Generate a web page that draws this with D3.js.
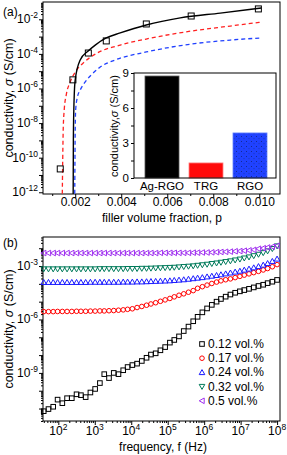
<!DOCTYPE html>
<html>
<head>
<meta charset="utf-8">
<script src="https://cdn.jsdelivr.net/npm/d3@7"></script>
<style>
  body { margin: 0; background: #fff; }
  svg { display: block; font-family: "Liberation Sans", Arial, sans-serif; }
</style>
</head>
<body>
<div id="chart"></div>
<script>
// ---- panel (a): measured points + fitted curves (log10 sigma) ----
const fillerP   = [0.00135, 0.0019, 0.00257, 0.00335, 0.00509, 0.00704, 0.00996];
const sigmaALog = [-10.65, -5.5, -3.95, -3.25, -2.27, -1.81, -1.4];

const fitAgP   = [0.00191, 0.00192, 0.00194, 0.00196, 0.0020, 0.002217, 0.002565, 0.00287, 0.003348, 0.003957, 0.005087, 0.006565, 0.008304, 0.010087];
const fitAgLog = [-12.5, -9, -7.2, -6.3, -5.5, -4.35, -3.83, -3.49, -3.08, -2.79, -2.33, -1.92, -1.64, -1.35];

const trgP   = [0.001435, 0.001457, 0.001478, 0.001522, 0.001609, 0.001783, 0.002, 0.002348, 0.002957, 0.003957, 0.005087, 0.007043, 0.008739, 0.010087];
const trgLog = [-12.5, -10.13, -8.4, -7.24, -6.38, -5.62, -5.05, -4.53, -3.95, -3.49, -3.14, -2.68, -2.39, -2.16];

const rgoP   = [0.001978, 0.002, 0.00202, 0.002087, 0.002217, 0.002435, 0.002739, 0.003087, 0.003739, 0.005087, 0.007043, 0.008739, 0.010087];
const rgoLog = [-12.5, -8.4, -7.24, -6.55, -6.09, -5.62, -5.16, -4.76, -4.35, -3.89, -3.43, -3.2, -3.08];

// inset bars
const fillers = ['Ag-RGO', 'TRG', 'RGO'];
const fillerSigma = [8.74, 1.29, 3.86];
const barColors = ['#000000', '#ff0a0a', '#2042ff'];

// ---- panel (b): frequency sweep ----
const freqExp = [1.60,1.73,1.86,1.98,2.11,2.24,2.37,2.50,2.62,2.75,2.88,3.01,3.14,3.26,3.39,3.52,3.65,3.78,3.90,4.03,4.16,4.29,4.42,4.54,4.67,4.80,4.93,5.06,5.18,5.31,5.44,5.57,5.70,5.82,5.95,6.08,6.21,6.34,6.46,6.59,6.72,6.85,6.98,7.10,7.23,7.36,7.49,7.62,7.74,7.87,8.00];

const s012 = [-11.15,-11.03,-10.9,-10.5,-10.7,-10.42,-10.42,-10.2,-10.25,-10.36,-10.1,-9.9,-9.57,-9.07,-9.29,-9.0,-9.07,-8.85,-8.67,-8.56,-8.48,-8.33,-8.15,-7.97,-7.9,-7.73,-7.55,-7.3,-7.15,-6.95,-6.65,-6.4,-6.1,-5.85,-5.6,-5.38,-5.18,-5.0,-4.85,-4.72,-4.6,-4.5,-4.42,-4.35,-4.28,-4.2,-4.12,-4.05,-3.96,-3.88,-3.78];
const s017 = [-5.56,-5.56,-5.56,-5.55,-5.55,-5.55,-5.55,-5.54,-5.54,-5.54,-5.53,-5.53,-5.52,-5.52,-5.51,-5.5,-5.48,-5.46,-5.43,-5.4,-5.33,-5.27,-5.2,-5.13,-5.06,-4.98,-4.9,-4.82,-4.73,-4.64,-4.56,-4.47,-4.38,-4.25,-4.16,-4.07,-3.98,-3.9,-3.83,-3.77,-3.72,-3.65,-3.58,-3.51,-3.44,-3.37,-3.3,-3.22,-3.14,-3.04,-2.92];
const s024 = [-3.91,-3.91,-3.91,-3.91,-3.91,-3.91,-3.91,-3.91,-3.91,-3.91,-3.9,-3.9,-3.9,-3.9,-3.9,-3.9,-3.9,-3.89,-3.89,-3.89,-3.88,-3.88,-3.87,-3.86,-3.85,-3.84,-3.83,-3.82,-3.8,-3.78,-3.76,-3.73,-3.7,-3.67,-3.64,-3.6,-3.56,-3.52,-3.48,-3.43,-3.38,-3.33,-3.28,-3.22,-3.16,-3.09,-3.02,-2.94,-2.85,-2.73,-2.6];
const s032 = [-3.17,-3.17,-3.17,-3.17,-3.17,-3.17,-3.17,-3.17,-3.17,-3.17,-3.17,-3.17,-3.16,-3.16,-3.16,-3.16,-3.16,-3.16,-3.15,-3.15,-3.15,-3.14,-3.14,-3.13,-3.12,-3.11,-3.1,-3.09,-3.08,-3.06,-3.04,-3.02,-3.0,-2.97,-2.94,-2.91,-2.87,-2.84,-2.8,-2.76,-2.72,-2.67,-2.62,-2.56,-2.5,-2.43,-2.35,-2.26,-2.16,-2.03,-1.88];
const s05  = [-2.27,-2.27,-2.27,-2.27,-2.27,-2.27,-2.27,-2.27,-2.27,-2.27,-2.27,-2.27,-2.27,-2.27,-2.27,-2.27,-2.27,-2.27,-2.27,-2.27,-2.27,-2.27,-2.27,-2.27,-2.27,-2.26,-2.26,-2.26,-2.26,-2.26,-2.26,-2.26,-2.25,-2.25,-2.24,-2.24,-2.23,-2.22,-2.21,-2.2,-2.19,-2.17,-2.16,-2.14,-2.12,-2.09,-2.03,-2.0,-1.96,-1.92,-1.86];

const seriesNames = ['0.12 vol.%', '0.17 vol.%', '0.24 vol.%', '0.32 vol.%', '0.5 vol.%'];
const seriesColors = ['#000000', '#ff0000', '#1a1aff', '#007a5a', '#a030f0'];
const seriesShapes = ['square', 'circle', 'up', 'down', 'left'];
const seriesData = [s012, s017, s024, s032, s05];

// ---- svg ----
const W = 287, H = 455;
const svg = d3.select('#chart').append('svg').attr('width', W).attr('height', H);
svg.append('rect').attr('width', W).attr('height', H).attr('fill', '#fff');
const p10 = v => Math.pow(10, v);

// axis title with italic sigma
function yTitle(cx, cy, fs, txt1) {
  const t = svg.append('text')
    .attr('transform', `translate(${cx},${cy}) rotate(-90)`)
    .attr('text-anchor', 'middle').attr('font-size', fs);
  t.append('tspan').text(txt1);
  t.append('tspan').attr('font-style', 'italic').text('σ');
  t.append('tspan').text(' (S/cm)');
}

function powLabel(g, x, y, exp, anchor) {
  const t = g.append('text').attr('x', x).attr('y', y).attr('text-anchor', anchor).attr('font-size', 12);
  t.append('tspan').text('10');
  t.append('tspan').attr('dy', -5).attr('font-size', 8.5).text(exp);
}

function decadeTicks(lo, hi) {
  const major = [], minor = [];
  for (let d = lo; d <= hi; d++) {
    major.push(p10(d));
    for (let m = 2; m < 10; m++) minor.push(m * p10(d));
  }
  return { major, minor };
}

// ================= panel (a) =================
const ma = { left: 43, right: 280, top: 2, bottom: 194 };
const xa = d3.scaleLinear().domain([0.0006, 0.0109]).range([ma.left, ma.right]);
const ya = d3.scaleLog().domain([p10(-12.1), p10(-1)]).range([ma.bottom, ma.top]);

svg.append('clipPath').attr('id', 'clipA').append('rect')
  .attr('x', ma.left).attr('y', ma.top).attr('width', ma.right - ma.left).attr('height', ma.bottom - ma.top);

const tA = decadeTicks(-12, -2);
svg.append('g').attr('transform', `translate(${ma.left},0)`)
  .call(d3.axisLeft(ya).tickValues(tA.minor.filter(v => v < p10(-1))).tickSize(2).tickFormat(''))
  .call(g => g.select('.domain').remove());
svg.append('g').attr('transform', `translate(${ma.left},0)`)
  .call(d3.axisLeft(ya).tickValues(tA.major).tickSize(4).tickFormat(''))
  .call(g => g.select('.domain').remove());
const yLabA = svg.append('g');
[-2, -4, -6, -8, -10, -12].forEach(e => powLabel(yLabA, 38, ya(p10(e)) + 4, String(e), 'end'));

svg.append('g').attr('transform', `translate(0,${ma.bottom})`)
  .call(d3.axisBottom(xa).tickValues([0.001, 0.003, 0.005, 0.007, 0.009]).tickSize(2).tickFormat(''))
  .call(g => g.select('.domain').remove());
svg.append('g').attr('transform', `translate(0,${ma.bottom})`)
  .call(d3.axisBottom(xa).tickValues([0.002, 0.004, 0.006, 0.008, 0.010]).tickSize(4).tickFormat(d3.format('.3f')))
  .call(g => g.select('.domain').remove())
  .call(g => g.selectAll('text').attr('font-size', 12).attr('font-family', 'Liberation Sans, Arial').attr('fill', '#000').attr('dy', '0.5em').attr('y', 6));

svg.append('rect').attr('x', ma.left).attr('y', ma.top)
  .attr('width', ma.right - ma.left).attr('height', ma.bottom - ma.top)
  .attr('fill', 'none').attr('stroke', '#000').attr('stroke-width', 1);

const lineA = d3.line().x(d => xa(d[0])).y(d => ya(p10(d[1]))).curve(d3.curveMonotoneX);
const curvesA = svg.append('g').attr('clip-path', 'url(#clipA)');
curvesA.append('path').datum(d3.zip(trgP, trgLog)).attr('d', lineA)
  .attr('fill', 'none').attr('stroke', '#ff2020').attr('stroke-width', 1.3).attr('stroke-dasharray', '4,3');
curvesA.append('path').datum(d3.zip(rgoP, rgoLog)).attr('d', lineA)
  .attr('fill', 'none').attr('stroke', '#2040ff').attr('stroke-width', 1.3).attr('stroke-dasharray', '4,3');
curvesA.append('path').datum(d3.zip(fitAgP, fitAgLog)).attr('d', lineA)
  .attr('fill', 'none').attr('stroke', '#000').attr('stroke-width', 1.4);

curvesA.selectAll('.ptA').data(d3.zip(fillerP, sigmaALog)).enter().append('rect')
  .attr('x', d => xa(d[0]) - 3).attr('y', d => ya(p10(d[1])) - 3)
  .attr('width', 6).attr('height', 6)
  .attr('fill', 'none').attr('stroke', '#000').attr('stroke-width', 1);

svg.append('text').attr('x', 3).attr('y', 16).attr('font-size', 12).text('(a)');
yTitle(13, 98, 12.5, 'conductivity, ');
svg.append('text').attr('x', 162).attr('y', 222).attr('text-anchor', 'middle').attr('font-size', 12)
  .text('filler volume fraction, p');

// ---- inset ----
const mi = { left: 134, right: 276, top: 73, bottom: 178 };
const xi = d3.scaleBand().domain(fillers).range([140, 272]).paddingInner(10 / 44).paddingOuter(5 / 44);
const yi = d3.scaleLinear().domain([0, 9]).range([mi.bottom, mi.top]);

const defs = svg.append('defs');
const pat = defs.append('pattern').attr('id', 'dots').attr('patternUnits', 'userSpaceOnUse')
  .attr('width', 5).attr('height', 5);
pat.append('rect').attr('width', 5).attr('height', 5).attr('fill', barColors[2]);
pat.append('circle').attr('cx', 1.5).attr('cy', 1.5).attr('r', 0.5).attr('fill', '#102070');
pat.append('circle').attr('cx', 4).attr('cy', 3.8).attr('r', 0.45).attr('fill', '#102070');

svg.append('rect').attr('x', mi.left).attr('y', mi.top)
  .attr('width', mi.right - mi.left).attr('height', mi.bottom - mi.top).attr('fill', '#fff');

svg.selectAll('.bar').data(fillers).enter().append('rect')
  .attr('class', 'bar')
  .attr('x', d => xi(d)).attr('y', (d, i) => yi(fillerSigma[i]))
  .attr('width', xi.bandwidth()).attr('height', (d, i) => mi.bottom - yi(fillerSigma[i]))
  .attr('fill', (d, i) => i === 2 ? 'url(#dots)' : barColors[i])
  .attr('stroke', (d, i) => ['#555', '#ff8080', '#6080ff'][i]).attr('stroke-width', 0.8);

svg.append('g').attr('transform', `translate(${mi.left},0)`)
  .call(d3.axisLeft(yi).tickValues([0, 1.5, 3, 4.5, 6, 7.5, 9]).tickSize(3).tickFormat(d => d % 3 === 0 ? d : ''))
  .call(g => g.select('.domain').remove())
  .call(g => g.selectAll('text').attr('font-size', 11.5).attr('font-family', 'Liberation Sans, Arial').attr('fill', '#000').attr('x', -5));

svg.append('g').attr('transform', `translate(0,${mi.bottom})`)
  .call(d3.axisBottom(xi).tickSize(0))
  .call(g => g.select('.domain').remove())
  .call(g => g.selectAll('text').attr('font-size', 11.5).attr('font-family', 'Liberation Sans, Arial').attr('fill', '#000').attr('y', 4));

svg.append('rect').attr('x', mi.left).attr('y', mi.top)
  .attr('width', mi.right - mi.left).attr('height', mi.bottom - mi.top)
  .attr('fill', 'none').attr('stroke', '#000').attr('stroke-width', 1);
yTitle(118, 126, 11, 'conductivity,');

// ================= panel (b) =================
const mb = { left: 43, right: 280, top: 237, bottom: 421 };
const xb = d3.scaleLog().domain([p10(1.58), p10(8.08)]).range([mb.left, mb.right]);
const yb = d3.scaleLog().domain([p10(-11.7), p10(-1.37)]).range([mb.bottom, mb.top]);

const tBx = decadeTicks(1, 8);
svg.append('g').attr('transform', `translate(0,${mb.bottom})`)
  .call(d3.axisBottom(xb).tickValues(tBx.minor.filter(v => v > p10(1.58) && v < p10(8))).tickSize(2).tickFormat(''))
  .call(g => g.select('.domain').remove());
svg.append('g').attr('transform', `translate(0,${mb.bottom})`)
  .call(d3.axisBottom(xb).tickValues(tBx.major.filter(v => v >= p10(2))).tickSize(4).tickFormat(''))
  .call(g => g.select('.domain').remove());
const xLabB = svg.append('g');
[2, 3, 4, 5, 6, 7, 8].forEach(e => powLabel(xLabB, xb(p10(e)), 435, String(e), 'middle'));

const tBy = decadeTicks(-12, -2);
svg.append('g').attr('transform', `translate(${mb.left},0)`)
  .call(d3.axisLeft(yb).tickValues(tBy.minor.filter(v => v > p10(-11.7) && v < p10(-1.37))).tickSize(2).tickFormat(''))
  .call(g => g.select('.domain').remove());
svg.append('g').attr('transform', `translate(${mb.left},0)`)
  .call(d3.axisLeft(yb).tickValues(tBy.major.filter(v => v > p10(-11.7))).tickSize(4).tickFormat(''))
  .call(g => g.select('.domain').remove());
const yLabB = svg.append('g');
[-3, -6, -9].forEach(e => powLabel(yLabB, 38, yb(p10(e)) + 4, String(e), 'end'));

svg.append('rect').attr('x', mb.left).attr('y', mb.top)
  .attr('width', mb.right - mb.left).attr('height', mb.bottom - mb.top)
  .attr('fill', 'none').attr('stroke', '#000').attr('stroke-width', 1);

function marker(g, shape, x, y, color) {
  const s = 2.3;
  let el;
  if (shape === 'square') el = g.append('rect').attr('x', x - s).attr('y', y - s).attr('width', 2 * s).attr('height', 2 * s);
  else if (shape === 'circle') el = g.append('circle').attr('cx', x).attr('cy', y).attr('r', s);
  else if (shape === 'up') el = g.append('path').attr('d', `M${x},${y - 2.8}L${x + 2.8},${y + 2.2}L${x - 2.8},${y + 2.2}Z`);
  else if (shape === 'down') el = g.append('path').attr('d', `M${x},${y + 2.8}L${x + 2.8},${y - 2.2}L${x - 2.8},${y - 2.2}Z`);
  else el = g.append('path').attr('d', `M${x - 2.8},${y}L${x + 2.2},${y - 2.8}L${x + 2.2},${y + 2.8}Z`);
  el.attr('fill', 'none').attr('stroke', color).attr('stroke-width', 1);
}

const ptsB = svg.append('g');
seriesData.forEach((vals, k) => {
  vals.forEach((v, i) => marker(ptsB, seriesShapes[k], xb(p10(freqExp[i])), yb(p10(v)), seriesColors[k]));
});

const leg = svg.append('g');
seriesNames.forEach((name, k) => {
  const yy = 344 + k * 14.2;
  marker(leg, seriesShapes[k], 202, yy, seriesColors[k]);
  leg.append('text').attr('x', 208).attr('y', yy + 4).attr('font-size', 12).text(name);
});

svg.append('text').attr('x', 3).attr('y', 247).attr('font-size', 12).text('(b)');
yTitle(13, 329, 12.5, 'conductivity, ');
svg.append('text').attr('x', 163).attr('y', 451).attr('text-anchor', 'middle').attr('font-size', 12)
  .text('frequency, f (Hz)');
</script>
</body>
</html>
